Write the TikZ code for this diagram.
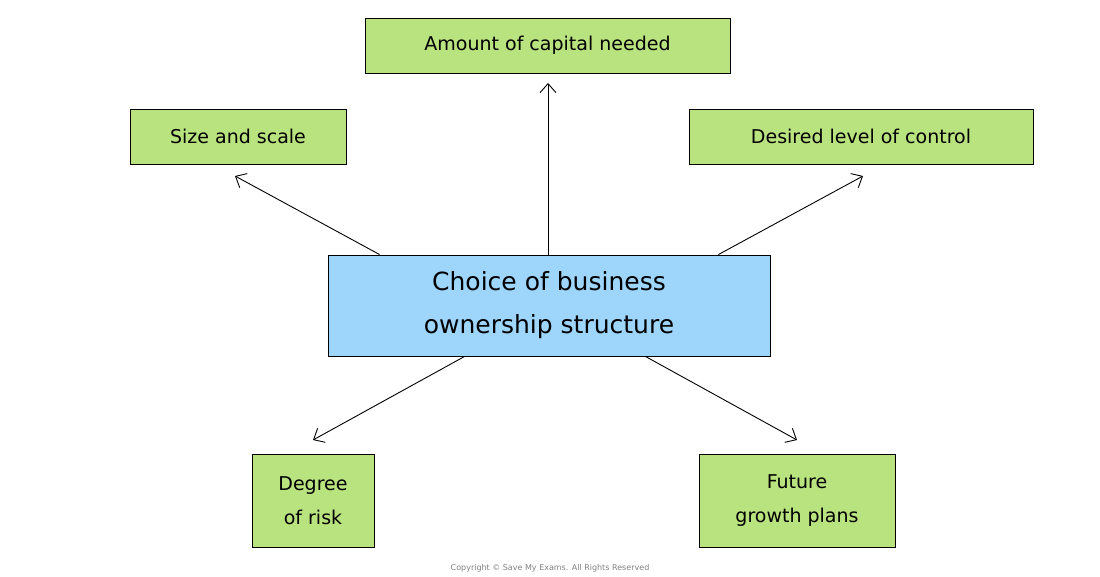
\documentclass[tikz,border=0pt]{standalone}
\usepackage{fontspec}
\setmainfont{DejaVu Sans}
\usetikzlibrary{arrows.meta}
\definecolor{gbox}{HTML}{B9E37F}
\definecolor{bbox}{HTML}{9DD5FB}
\begin{document}
\begin{tikzpicture}[x=1pt,y=-1pt,
  gnode/.style={draw=black,fill=gbox,line width=0.9pt,align=center,font=\fontsize{19}{24}\selectfont,inner sep=0pt},
  arr/.style={-{Straight Barb[length=9pt,width=16pt]},line width=0.9pt}]
\useasboundingbox (0,0) rectangle (1100,577);
\node[gnode,minimum width=365,minimum height=55] (amt) at (547.5,45.5) {Amount of capital needed};
\node[gnode,minimum width=216,minimum height=55] (size) at (238,136.5) {Size and scale};
\node[gnode,minimum width=344,minimum height=55] (ctrl) at (861,136.5) {Desired level of control};
\node[draw=black,fill=bbox,line width=0.9pt,align=center,font=\fontsize{25}{43}\selectfont,minimum width=442,minimum height=101,inner sep=0pt] (c) at (549,305.5) {Choice of business\\ownership structure};
\node[gnode,minimum width=122,minimum height=93,font=\fontsize{19}{34}\selectfont] (risk) at (313,500.5) {Degree\\of risk};
\node[gnode,minimum width=196,minimum height=93,font=\fontsize{19}{34}\selectfont] (fut) at (797,500.5) {Future\\growth plans};
\coordinate (a1) at (548,83); \coordinate (a2) at (235,176); \coordinate (a3) at (863,176);
\coordinate (a4) at (313,440); \coordinate (a5) at (797,440);
\draw[arr] (c.north -| a1) -- (a1);
\draw[arr] ([xshift=52pt]c.north west) -- (a2);
\draw[arr] ([xshift=-52pt]c.north east) -- (a3);
\draw[arr] ([xshift=137pt]c.south west) -- (a4);
\draw[arr] ([xshift=-125pt]c.south east) -- (a5);
\node[font=\fontsize{8}{10}\selectfont,text=gray] (cp) at (550,568) {Copyright © Save My Exams. All Rights Reserved};
\end{tikzpicture}
\end{document}
